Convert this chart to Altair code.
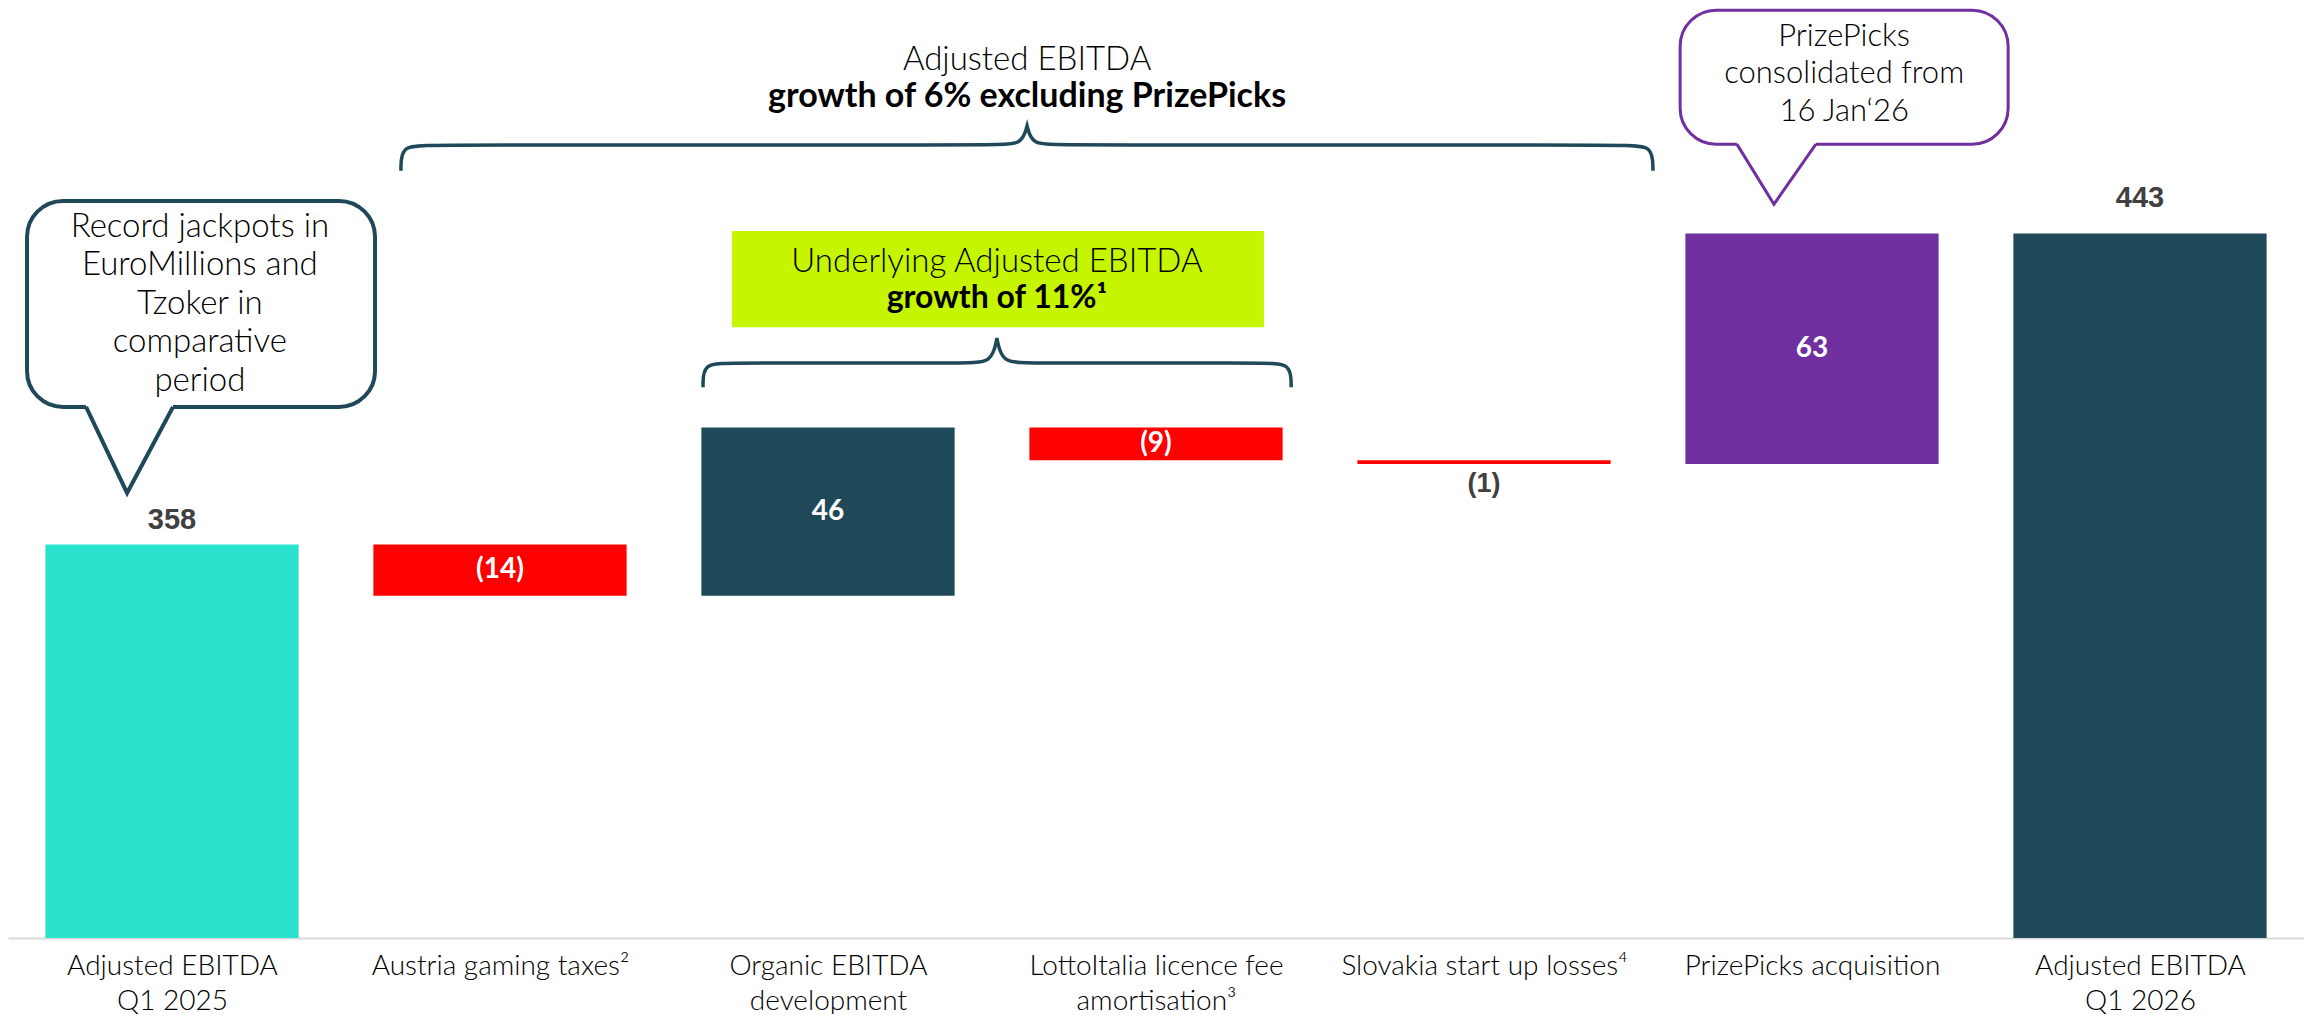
import json
import altair as alt
import pandas as pd

# ---------------- data ----------------
categories = ["Adjusted EBITDA Q1 2025", "Austria gaming taxes", "Organic EBITDA development",
              "LottoItalia licence fee amortisation", "Slovakia start up losses",
              "PrizePicks acquisition", "Adjusted EBITDA Q1 2026"]
axis_labels = [["Adjusted EBITDA", "Q1 2025"], ["Austria gaming taxes²"], ["Organic EBITDA", "development"],
               ["LottoItalia licence fee", "amortisation³"], ["Slovakia start up losses⁴"],
               ["PrizePicks acquisition"], ["Adjusted EBITDA", "Q1 2026"]]
values = [358, -14, 46, -9, -1, 63, 443]
kinds = ["start", "decrease", "increase", "decrease", "decrease", "acquisition", "end"]
value_labels = ["358", "(14)", "46", "(9)", "(1)", "63", "443"]

kind_domain = ["start", "increase", "decrease", "acquisition", "end"]
kind_colors = ["#2BE2CF", "#1F4858", "#FF0000", "#7030A0", "#1F4858"]

# annotation geometry (in chart units: x = category index, y = EBITDA value)
big_brace_x = [0.698, 0.698, 0.787, 2.509, 2.591, 2.607, 2.607, 2.607, 2.622, 2.704, 4.427, 4.515, 4.515]
big_brace_y = [460.1, 467.2, 467.2, 467.2, 467.2, 472.4, 472.4, 472.4, 467.2, 467.2, 467.2, 467.2, 460.1]
small_brace_x = [1.619, 1.619, 1.701, 2.418, 2.500, 2.515, 2.515, 2.515, 2.530, 2.613, 3.329, 3.412, 3.412]
small_brace_y = [401.0, 407.6, 407.6, 407.6, 407.6, 414.4, 414.4, 414.4, 407.6, 407.6, 407.6, 407.6, 401.0]

big_brace_text = ["Adjusted EBITDA", "growth of 6% excluding PrizePicks"]
big_brace_text_x = 2.607
big_brace_text_y = [490.4, 480.3]

lime_box_x = [1.707, 3.329]
lime_box_y = [417.4, 443.7]
lime_text = ["Underlying Adjusted EBITDA", "growth of 11%¹"]
lime_text_x = 2.515
lime_text_y = [435.2, 425.4]

left_bubble_box_x = [-0.442, 0.619]
left_bubble_box_y = [395.6, 451.9]
left_bubble_tail_x = [-0.262, -0.137, 0.003]
left_bubble_tail_y = [395.6, 372.1, 395.6]
left_bubble_text = "Record jackpots in\nEuroMillions and\nTzoker in\ncomparative\nperiod"
left_bubble_text_xy = [0.085, 444.8]

pp_bubble_box_x = [4.598, 5.598]
pp_bubble_box_y = [467.4, 504.0]
pp_bubble_tail_x = [4.771, 4.884, 5.012]
pp_bubble_tail_y = [467.4, 451.0, 467.4]
pp_bubble_text = "PrizePicks\nconsolidated from\n16 Jan‘26"
pp_bubble_text_xy = [5.098, 496.7]

# ---------------- build waterfall table ----------------
BAR_HALF = 0.386
rows = []
running = 0
for i, (c, v, k, lab) in enumerate(zip(categories, values, kinds, value_labels)):
    if k in ("start", "end"):
        s, e = 0, v
        running = v
    else:
        s, e = running, running + v
        running = e
    rows.append(dict(idx=i, cat=c, start=s, end=e, kind=k, label=lab,
                     mid=(s + e) / 2, top=max(s, e), bottom=min(s, e),
                     x0=i - BAR_HALF, x1=i + BAR_HALF, size=abs(e - s)))
df = pd.DataFrame(rows)

xs = alt.Scale(domain=[-0.5, 6.5], nice=False, zero=False)
ys = alt.Scale(domain=[250.5, 504.6], nice=False, zero=False, clamp=True)

label_expr = json.dumps(axis_labels, ensure_ascii=False) + "[datum.value]"
xaxis = alt.Axis(values=list(range(7)), labelExpr=label_expr, title=None, grid=False, ticks=False,
                 domain=True, domainColor="#D9D9D9", domainWidth=2, labelFont="Lato",
                 labelFontSize=28, labelFontWeight=300, labelColor="#000000", labelPadding=14,
                 labelLineHeight=35, labelBaseline="top", labelOverlap=False, labelFlush=False,
                 labelBound=False, labelLimit=0)


def X(field):
    return alt.X(field, type="quantitative", scale=xs, axis=xaxis)


def Y(field):
    return alt.Y(field, type="quantitative", scale=ys, axis=None)


base = alt.Chart(df)

bars = base.mark_rect().encode(
    x=X("x0"), x2="x1:Q", y=Y("start"), y2="end:Q",
    color=alt.Color("kind:N", scale=alt.Scale(domain=kind_domain, range=kind_colors), legend=None),
)

inside_labels = base.transform_filter(
    "(datum.kind != 'start') && (datum.kind != 'end') && (datum.size >= 5)"
).mark_text(font="Lato", fontWeight=700, fontSize=28, color="white", baseline="middle", align="center").encode(
    x=X("idx"), y=Y("mid"), text="label:N")

small_labels = base.transform_filter(
    "(datum.kind != 'start') && (datum.kind != 'end') && (datum.size < 5)"
).mark_text(font="Liberation Sans", fontWeight="bold", fontSize=27, color="#404040", baseline="top",
            align="center", dy=7).encode(
    x=X("idx"), y=Y("bottom"), text="label:N")

start_label = base.transform_filter("datum.kind == 'start'").mark_text(
    font="Liberation Sans", fontWeight="bold", fontSize=29, color="#404040", baseline="alphabetic",
    align="center", dy=-16).encode(x=X("idx"), y=Y("top"), text="label:N")

end_label = base.transform_filter("datum.kind == 'end'").mark_text(
    font="Liberation Sans", fontWeight="bold", fontSize=29, color="#404040", baseline="alphabetic",
    align="center", dy=-26).encode(x=X("idx"), y=Y("top"), text="label:N")

# braces
brace_df = pd.DataFrame(
    [dict(brace="big", ord=i, x=x, y=y) for i, (x, y) in enumerate(zip(big_brace_x, big_brace_y))] +
    [dict(brace="small", ord=i, x=x, y=y) for i, (x, y) in enumerate(zip(small_brace_x, small_brace_y))]
)
braces = alt.Chart(brace_df).mark_line(interpolate="basis", color="#1F4858", strokeWidth=3.5).encode(
    x=X("x"), y=Y("y"), order="ord:Q", detail="brace:N")

big_text_df = pd.DataFrame(dict(t=big_brace_text, x=[big_brace_text_x] * 2, y=big_brace_text_y))
big_text_reg = alt.Chart(big_text_df.iloc[[0]]).mark_text(
    font="Lato", fontSize=33, fontWeight=300, color="#000000", align="center", baseline="middle").encode(
    x=X("x"), y=Y("y"), text="t:N")
big_text_bold = alt.Chart(big_text_df.iloc[[1]]).mark_text(
    font="Lato", fontSize=34, fontWeight=700, color="#000000", align="center", baseline="middle").encode(
    x=X("x"), y=Y("y"), text="t:N")

lime_df = pd.DataFrame(dict(x0=[lime_box_x[0]], x1=[lime_box_x[1]], y0=[lime_box_y[0]], y1=[lime_box_y[1]]))
lime_box = alt.Chart(lime_df).mark_rect(color="#C5F500").encode(
    x=X("x0"), x2="x1:Q", y=Y("y0"), y2="y1:Q")
lime_text_df = pd.DataFrame(dict(t=lime_text, x=[lime_text_x] * 2, y=lime_text_y))
lime_text_reg = alt.Chart(lime_text_df.iloc[[0]]).mark_text(
    font="Lato", fontSize=33, fontWeight=300, color="#000000", align="center", baseline="middle").encode(
    x=X("x"), y=Y("y"), text="t:N")
lime_text_bold = alt.Chart(lime_text_df.iloc[[1]]).mark_text(
    font="Lato", fontSize=32, fontWeight=700, color="#000000", align="center", baseline="middle").encode(
    x=X("x"), y=Y("y"), text="t:N")


def bubble(box_x, box_y, tail_x, tail_y, text, text_xy, color, sw, fsize, lh):
    box = alt.Chart(pd.DataFrame(dict(x0=[box_x[0]], x1=[box_x[1]], y0=[box_y[0]], y1=[box_y[1]]))).mark_rect(
        fill="white", stroke=color, strokeWidth=sw, cornerRadius=36).encode(
        x=X("x0"), x2="x1:Q", y=Y("y0"), y2="y1:Q")
    tdf = pd.DataFrame(dict(ord=[0, 1, 2], x=tail_x, y=tail_y, ytop=[tail_y[0] + 1.5] * 3))
    tail_fill = alt.Chart(tdf).mark_area(color="white", opacity=1).encode(
        x=X("x"), y=Y("y"), y2="ytop:Q")
    tail_line = alt.Chart(tdf).mark_line(color=color, strokeWidth=sw, strokeJoin="miter").encode(
        x=X("x"), y=Y("y"), order="ord:Q")
    txt = alt.Chart(pd.DataFrame(dict(t=[text], x=[text_xy[0]], y=[text_xy[1]]))).mark_text(
        font="Lato", fontSize=fsize, fontWeight=300, color="#000000", align="center", baseline="middle",
        lineBreak="\n", lineHeight=lh).encode(
        x=X("x"), y=Y("y"), text="t:N")
    return [box, tail_fill, tail_line, txt]


left_bubble = bubble(left_bubble_box_x, left_bubble_box_y, left_bubble_tail_x, left_bubble_tail_y,
                     left_bubble_text, left_bubble_text_xy, "#1F4858", 4, 33, 38.5)
pp_bubble = bubble(pp_bubble_box_x, pp_bubble_box_y, pp_bubble_tail_x, pp_bubble_tail_y,
                   pp_bubble_text, pp_bubble_text_xy, "#7030A0", 3, 31, 37.5)

chart = alt.layer(
    bars, inside_labels, small_labels, start_label, end_label,
    braces, big_text_reg, big_text_bold,
    lime_box, lime_text_reg, lime_text_bold,
    *left_bubble, *pp_bubble,
).properties(
    width=2296, height=930,
    autosize=alt.AutoSizeParams(type="none"),
    padding={"left": 0, "right": 0, "top": 0, "bottom": 76},
    background="white",
).configure_view(stroke=None)

chart.save("out.html", embed_options={"renderer": "svg", "actions": False})
